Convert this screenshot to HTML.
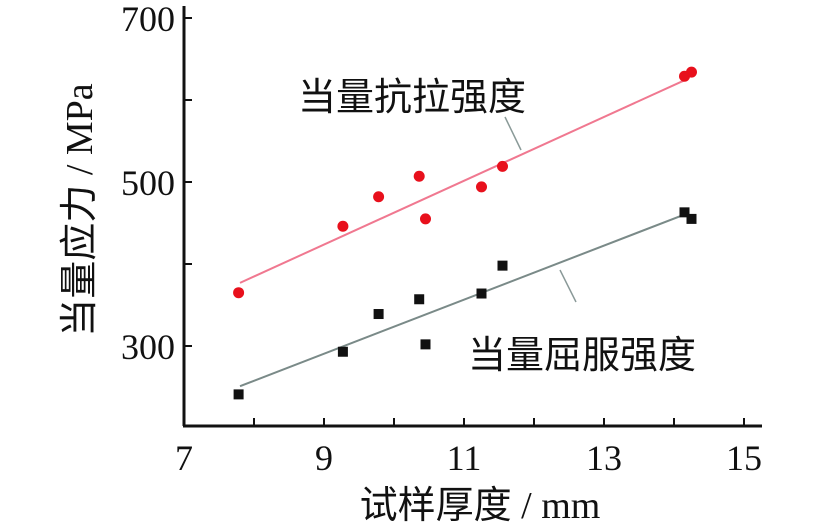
<!DOCTYPE html>
<html><head><meta charset="utf-8"><style>
body{margin:0;background:#fff}
svg text{font-family:"Liberation Serif","Noto Serif CJK SC",serif;fill:#111}
.cjk{font-family:"Liberation Sans","Noto Sans CJK SC",sans-serif}
</style></head><body>
<svg id="c" width="837" height="526" xmlns="http://www.w3.org/2000/svg"></svg>
<script>
const xTicks=[7,9,11,13,15];
const yTicks=[300,500,700];
const redX=[7.78,9.27,9.78,10.36,10.45,11.25,11.55,14.15,14.25];
const redY=[365,446,482,507,455,494,519,629,634];
const blkX=[7.78,9.27,9.78,10.36,10.45,11.25,11.55,14.15,14.25];
const blkY=[241,293,339,357,302,364,398,463,455];
const redFit=[[7.8,377],[14.2,626]];
const blkFit=[[7.8,251],[14.2,462]];
const sx=v=>184+(v-7)*70;
const sy=v=>182-(v-500)*0.82;
const svg=document.getElementById('c');
const NS='http://www.w3.org/2000/svg';
function mk(t,a,p){const e=document.createElementNS(NS,t);for(const k in a)e.setAttribute(k,a[k]);(p||svg).appendChild(e);return e;}
let e;
e=mk('line',{x1:184,y1:6,x2:184,y2:426,stroke:'#111','stroke-width':3});


e=mk('line',{x1:183,y1:426,x2:762,y2:426,stroke:'#111','stroke-width':3});


for(let v=7;v<=15;v++){e=mk('line',{x1:sx(v),y1:426,x2:sx(v),y2:418,stroke:'#111','stroke-width':2});

}
xTicks.forEach(v=>{e=mk('text',{x:sx(v),y:470,'text-anchor':'middle','font-size':36});e.textContent=v;

});
for(let v=300;v<=700;v+=100){e=mk('line',{x1:184,y1:sy(v),x2:192,y2:sy(v),stroke:'#111','stroke-width':2});

}
yTicks.forEach(v=>{e=mk('text',{x:175,y:sy(v)+13,'text-anchor':'end','font-size':36});e.textContent=v;

});
e=mk('line',{x1:sx(redFit[0][0]),y1:sy(redFit[0][1]),x2:sx(redFit[1][0]),y2:sy(redFit[1][1]),stroke:'#f07890','stroke-width':2});


e=mk('line',{x1:sx(blkFit[0][0]),y1:sy(blkFit[0][1]),x2:sx(blkFit[1][0]),y2:sy(blkFit[1][1]),stroke:'#7a8a88','stroke-width':2});


redX.forEach((x,i)=>{e=mk('circle',{cx:sx(x),cy:sy(redY[i]),r:5.5,fill:'#e8101c'});

});
blkX.forEach((x,i)=>{e=mk('rect',{x:sx(x)-5,y:sy(blkY[i])-5,width:10,height:10,fill:'#111'});

});
e=mk('line',{x1:505,y1:117,x2:521,y2:150,stroke:'#8a9a98','stroke-width':1.5});


e=mk('line',{x1:560,y1:270,x2:576,y2:302,stroke:'#8a9a98','stroke-width':1.5});


e=mk('text',{x:298,y:110,'font-size':38,class:'cjk'});e.textContent='当量抗拉强度';


e=mk('text',{x:468,y:368,'font-size':38,class:'cjk'});e.textContent='当量屈服强度';


e=mk('text',{x:480,y:518,'text-anchor':'middle','font-size':38});e.innerHTML='<tspan class="cjk">试样厚度</tspan> / mm';


e=mk('text',{x:0,y:0,'text-anchor':'middle','font-size':38,transform:'translate(92,210) rotate(-90)'});e.innerHTML='<tspan class="cjk">当量应力</tspan> / MPa';


</script>
</body></html>
